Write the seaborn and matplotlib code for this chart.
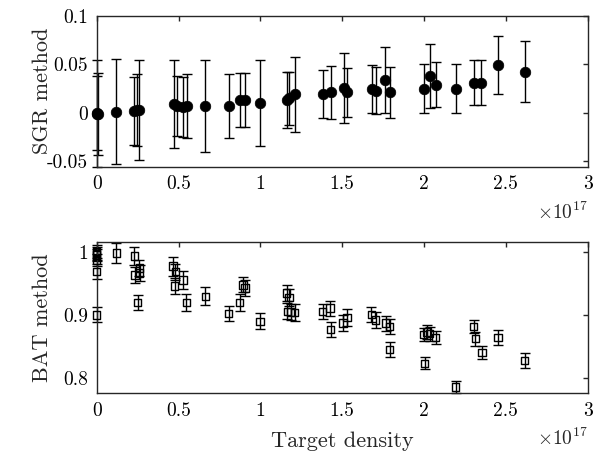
import numpy as np
import pandas as pd
import matplotlib
matplotlib.use("Agg")
import matplotlib.pyplot as plt
import seaborn as sns

# ---- data (x in units of 1e17) ----
sgr_x = [0.0, 0.003, 0.006, 0.12, 0.23, 0.245, 0.26, 0.47, 0.49, 0.53, 0.55,
         0.663, 0.806, 0.875, 0.905, 0.997, 1.16, 1.175, 1.21, 1.38, 1.43,
         1.512, 1.532, 1.685, 1.705, 1.76, 1.793, 1.998, 2.035, 2.071, 2.193,
         2.305, 2.35, 2.452, 2.615]
sgr_y = [-0.001, 0.0, -0.001, 0.001, 0.002, 0.003, 0.003, 0.009, 0.007, 0.006,
         0.007, 0.007, 0.007, 0.013, 0.013, 0.010, 0.013, 0.015, 0.019, 0.0195,
         0.021, 0.026, 0.021, 0.0245, 0.023, 0.034, 0.021, 0.025, 0.038, 0.029,
         0.025, 0.031, 0.031, 0.049, 0.0425]
sgr_err = [0.055, 0.038, 0.042, 0.054, 0.035, 0.037, 0.051, 0.045, 0.031, 0.031,
           0.033, 0.047, 0.033, 0.028, 0.028, 0.044, 0.029, 0.027, 0.039, 0.025,
           0.027, 0.036, 0.025, 0.0245, 0.024, 0.034, 0.0265, 0.025, 0.0325,
           0.023, 0.0255, 0.023, 0.023, 0.030, 0.031]

bat_x = [0.0, 0.0, 0.0, 0.0, 0.0, 0.0, 0.12, 0.23, 0.235, 0.26, 0.262, 0.25,
         0.466, 0.48, 0.476, 0.527, 0.547, 0.663, 0.806, 0.873, 0.893, 0.907,
         0.997, 1.16, 1.175, 1.165, 1.185, 1.21, 1.38, 1.425, 1.43, 1.506, 1.53,
         1.678, 1.705, 1.766, 1.79, 1.79, 1.998, 2.018, 2.035, 2.071, 2.004,
         2.193, 2.303, 2.314, 2.354, 2.452, 2.615]
bat_y = [1.001, 0.998, 0.996, 0.988, 0.969, 0.900, 0.999, 0.994, 0.964, 0.975,
         0.967, 0.920, 0.978, 0.969, 0.946, 0.956, 0.920, 0.930, 0.902, 0.920,
         0.948, 0.943, 0.890, 0.935, 0.928, 0.906, 0.905, 0.904, 0.906, 0.911,
         0.877, 0.887, 0.896, 0.901, 0.892, 0.887, 0.882, 0.845, 0.869, 0.873,
         0.870, 0.864, 0.823, 0.785, 0.882, 0.862, 0.840, 0.864, 0.827]
bat_err = [0.010, 0.010, 0.010, 0.010, 0.012, 0.012, 0.016, 0.015, 0.013, 0.013,
           0.013, 0.012, 0.015, 0.013, 0.013, 0.014, 0.013, 0.014, 0.012, 0.013,
           0.012, 0.013, 0.013, 0.013, 0.013, 0.013, 0.013, 0.013, 0.012, 0.012,
           0.012, 0.013, 0.013, 0.012, 0.012, 0.012, 0.012, 0.012, 0.011, 0.011,
           0.011, 0.011, 0.010, 0.009, 0.010, 0.011, 0.011, 0.012, 0.012]

xticks = [0, 0.5, 1, 1.5, 2, 2.5, 3]
xticklabels = ["0", "0.5", "1", "1.5", "2", "2.5", "3"]
sgr_yticks = [-0.05, 0, 0.05, 0.1]
sgr_yticklabels = ["-0.05", "0", "0.05", "0.1"]
bat_yticks = [0.8, 0.9, 1.0]
bat_yticklabels = ["0.8", "0.9", "1"]

sns.set_theme(style="white")
plt.rcParams.update({
    "font.family": ["cmr10", "DejaVu Serif"],
    "mathtext.fontset": "cm",
    "axes.unicode_minus": False,
    "axes.edgecolor": "#262626",
    "axes.linewidth": 1.0,
    "xtick.direction": "in",
    "ytick.direction": "in",
    "xtick.top": True,
    "ytick.right": True,
    "xtick.major.size": 3.5,
    "ytick.major.size": 3.5,
    "xtick.major.width": 1.0,
    "ytick.major.width": 1.0,
    "xtick.color": "#262626",
    "ytick.color": "#262626",
    "xtick.labelcolor": "black",
    "ytick.labelcolor": "black",
})

fig = plt.figure(figsize=(6.02, 4.54), dpi=100)
ax1 = fig.add_axes([0.1606, 0.6328, 0.8156, 0.3326])
ax2 = fig.add_axes([0.1606, 0.1337, 0.8156, 0.3326])

df1 = pd.DataFrame({"x": sgr_x, "y": sgr_y, "e": sgr_err})
df2 = pd.DataFrame({"x": bat_x, "y": bat_y, "e": bat_err})

eb1 = ax1.errorbar(df1["x"], df1["y"], yerr=df1["e"], fmt="none", ecolor="black",
                   elinewidth=1.0, capsize=3.6, capthick=1.0, zorder=2)
sns.scatterplot(data=df1, x="x", y="y", ax=ax1, marker="o", s=58,
                color="black", edgecolor="black", linewidth=0.5, zorder=3,
                legend=False, clip_on=False)

eb2 = ax2.errorbar(df2["x"], df2["y"], yerr=df2["e"], fmt="none", ecolor="black",
                   elinewidth=1.0, capsize=3.6, capthick=1.0, zorder=2)
sns.scatterplot(data=df2, x="x", y="y", ax=ax2, marker="s", s=28,
                facecolors="none", edgecolor="black", linewidth=1.0, zorder=3,
                legend=False, clip_on=False)

for eb in (eb1, eb2):
    for art in eb.lines[1]:
        art.set_clip_on(False)
    for art in eb.lines[2]:
        art.set_clip_on(False)

for ax in (ax1, ax2):
    ax.set_xlim(0, 3)
    ax.set_xticks(xticks)
    ax.set_xticklabels(xticklabels)
    ax.tick_params(labelsize=14, pad=6)
    for sp in ax.spines.values():
        sp.set_visible(True)
    ax.text(1.0, -0.30, r"$\times10^{17}$", transform=ax.transAxes,
            ha="right", va="center", fontsize=14)

ax1.set_ylim(-0.0554, 0.1)
ax1.set_yticks(sgr_yticks)
ax1.set_yticklabels(sgr_yticklabels)
ax1.set_xlabel("")
ax1.set_ylabel("SGR method", fontsize=16)
ax1.yaxis.set_label_coords(-0.09, 0.5)

ax2.set_ylim(0.775, 1.016)
ax2.set_yticks(bat_yticks)
ax2.set_yticklabels(bat_yticklabels)
ax2.set_xlabel("Target density", fontsize=16)
ax2.set_ylabel("BAT method", fontsize=16)
ax2.yaxis.set_label_coords(-0.09, 0.5)
ax2.xaxis.set_label_coords(0.5, -0.255)

fig.savefig("out.png", dpi=100)
